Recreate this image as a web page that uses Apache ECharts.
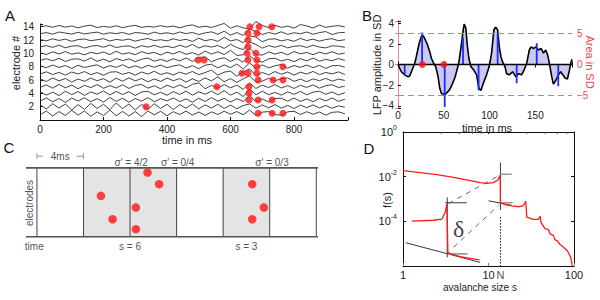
<!DOCTYPE html>
<html>
<head>
<meta charset="utf-8">
<title>LFP avalanches</title>
<script src="https://cdn.jsdelivr.net/npm/echarts@6.0.0/dist/echarts.min.js"></script>
<style>
  html, body { margin: 0; padding: 0; background: #fff; }
  #chart { width: 600px; height: 300px; }
</style>
</head>
<body>
<div id="chart"></div>
<script>
// A: LFP traces, one row per electrode (1..14), deflection in 1/100 of the row spacing, one sample every 20 ms
const traceStep = 20
const tracesA = [
  [-10,15,-18,12,-14,20,-12, 16,-20,10,-15,22,-16,13, -18,12,-22,16,-10,14,-17, 11,-8,15,-12,9,-14,10, -8,14,-6,12,-10,22,-14, 8,12,-9,-12,10,14,-8, 11,-6,9,-12,7,10,-3],
  [12,-16,20,-10,18,-22,14, -18,22,-12,16,-20,25,-14, 18,-22,15,-18,20,-12,16, -20,14,-10,18,-15,12,-9, 16,-12,10,-14,8,18,-10, 12,-8,14,-10,9,-13,11, -7,12,-9,8,-11,6,-4],
  [-8,14,-12,10,-16,13,-7, 15,-11,9,-14,17,-9,12, -15,10,-8,16,-12,9,-6, 14,-11,8,-15,12,-10,16, -8,11,-14,9,-10,32,-12, 8,-14,10,12,-8,13,-9, 7,-12,10,-6,14,-9,5],
  [10,-12,8,-15,14,-9,12, -14,9,-6,16,-11,13,-8, 11,-15,9,14,-10,7,-13, 12,-8,15,-12,10,-6,14, -9,18,-12,8,-22,30,-10, 14,-9,6,-12,10,-7,13, -10,8,14,-6,9,-11,5],
  [-6,12,-10,15,-8,11,-14, 9,-6,14,-11,7,-9,13, -12,8,15,-10,6,-14,10, -7,12,-9,16,25,-14,8, -10,14,-8,10,-18,26,-12, 10,-6,14,-9,7,-12,9, -5,12,-10,7,13,-6,4],
  [8,-10,14,-6,10,-14,7, -9,13,-5,9,-15,12,-8, 14,-6,10,-12,7,-9,13, -5,10,-14,8,-10,14,-6, 22,-12,9,-16,8,28,-14, -8,12,-6,10,14,-9,6, -12,8,-5,11,-8,6,-3],
  [-5,10,-8,6,-12,9,-4, 12,-9,5,-13,8,11,-7, 6,-12,9,-5,14,-8,4, -11,8,-6,13,-9,5,22, -12,8,15,-20,10,30,-15, 6,-10,12,-6,9,-12,8, -5,13,-9,6,-4,10,-8],
  [6,-7,11,-5,8,-12,10, -6,4,12,-9,7,-5,13, -8,6,-10,9,-4,11,-7, 5,12,-9,7,-14,10,16, -8,12,-6,18,-16,25,-10, 12,-8,6,15,-10,8,-5, 11,-7,9,-12,6,8,-4],
  [-4,9,-6,12,-10,5,8, -7,14,-9,6,-12,10,-4, 8,-11,5,13,-8,4,-10, 9,-6,14,-10,18,20,-12, 6,15,-9,10,-15,30,-5, -14,8,12,-7,5,-11,9, -6,13,-8,4,-5,10,-3],
  [5,-8,10,-4,12,-6,3, -10,7,-3,9,-8,14,-5, 4,-9,11,-2,6,-11,8, -4,13,-7,5,-12,15,-5, 10,-8,20,-14,-10,34,-8, -12,9,-5,7,-10,12,-3, 6,-9,8,-4,11,-6,2],
  [-2,7,-5,10,-8,4,6, -9,3,8,-4,11,-6,2, 5,-10,7,-3,9,-5,3, -7,10,-4,15,-9,6,-3, 8,-12,16,-6,-20,32,15, -10,7,-4,9,-8,3,6, -5,10,-3,-8,6,3,-4],
  [4,-6,8,-3,6,-9,3, 7,-5,2,9,-7,4,-2, 6,-8,3,10,-4,2,-6, 8,-3,5,-10,12,-5,4, -9,18,-6,3,-18,28,20, -12,5,8,-6,3,-9,11, -4,6,-8,3,9,-5,2],
  [-3,5,-6,9,2,-5,7, -4,3,8,-6,4,-2,6, -7,5,2,-6,8,-3,4, -5,9,-2,6,-8,3,10, -6,14,-12,5,-14,30,12, -8,6,-5,10,-7,4,-3, 9,-6,5,12,-8,4,6],
  [0,6,-4,8,-3,5,-8, 4,10,-6,2,-4,6,-7, 3,9,-5,2,-3,7,-2, 4,-8,5,12,-4,3,-6, 8,22,-10,6,-8,-16,35, 8,-6,9,-5,4,-10,14, 5,-9,11,-5,3,7,-2]
]
const traceGain = 1 / 45
// A: detected events [time in ms, electrode]
const eventsA = [
  [661, 14], [690, 14], [730, 14], [655, 13], [683, 13], [655, 12], [655, 11],
  [652, 10], [680, 10], [498, 9], [517, 9], [655, 9], [683, 9], [683, 8], [765, 8],
  [636, 7], [655, 7], [683, 7], [687, 6], [734, 6], [765, 6], [557, 5], [658, 5],
  [658, 4], [658, 3], [687, 3], [731, 3], [334, 2], [687, 1], [731, 1], [765, 1]
]

// B: one electrode, time in ms and amplitude in SD
const lfpTime = [0,3.6,7.3,11,12.8,15.3,18.2,20,23,25.5,27.4,29.2,31.8,34.7,36.5,39,41.2,43.8,45.6,47.4,51.1,53.6,56.6,59.5,62,63.9,65.7,66.8,69.3,71.2,72.3,74.1,75.5,77.4,79.6,82.8,85.8,88.3,90.5,93,96.7,99.6,102.2,104.7,106.6,108.8,110.6,112.4,114.2,116.8,118.6,121.5,125.2,128.8,131.4,135,137.6,140.5,143.4,145.3,147.8,150.7,153.3,156.2,158.8,161.3,163.5,165.3,167.9,169.7,172.6,175.2,177.7,179.9,182.5,185,187.2,189,190]
const lfpValue = [0,-0.7,-1.0,-1.2,-1.1,-0.55,0.1,0.75,2.0,2.7,2.8,2.5,2.0,1.2,0.6,0.1,-0.2,-1.2,-2.3,-2.8,-2.9,-2.7,-2.4,-1.85,-1.3,-0.7,-0.1,0.4,2.0,3.35,3.9,3.5,2.0,0.6,-0.2,-0.55,-1.0,-2.3,-2.5,-1.85,-1.0,-0.2,1.1,3.35,3.6,3.35,1.7,0.75,0.25,-0.2,-0.9,-1.0,-0.7,-1.2,-0.9,-1.0,-0.55,0.1,1.4,1.7,1.55,1.7,1.4,1.55,1.1,1.4,0.9,0.1,-1.2,-1.9,-1.5,-1.0,-0.7,-1.0,-1.3,-1.4,-0.55,0.25,0.5]
const peakTime = [7.3, 26.3, 51, 71, 88, 108.8, 129.6, 151.5, 175]
const peakValue = [-1.0, 3.1, -4.1, 2.6, -2.5, 3.0, -1.8, 2.05, -2.1]
const eventTimeB = [26.6, 50]
const thresholdSD = 3

// C: binning schematic, time in ms, electrodes as rows
const binEdges = [0, 4, 8, 12, 16, 20, 24]
const avalancheBins = [[4, 12], [16, 20]]
const spikeTime = [9.5, 10.5, 5.5, 8.5, 6.5, 8.5, 18.5, 19.5, 18.5]
const spikeRow = [5.5, 4.5, 3.5, 2.5, 1.5, 0.65, 4.5, 2.5, 1.5]
const electrodeBand = [0, 5.9]
const sigmaLabels = ['σ′ = 4/2', 'σ′ = 0/4', 'σ′ = 0/3']
const sigmaTime = [8.1, 12.1, 20.2]
const sizeLabels = ['s = 6', 's = 3']
const sizeTime = [8, 18]

// D: avalanche size distribution
const sizeMain = [1,1.59,2.49,3.9,6.1,7.98,9.57,11.4,12.9,13.7,13.8,15.6,18.7,23,25.6,27.3,28,33.5,38.3,40.1,41.2,45.8,50.1,52.5,57.3,60,63.8,68.7,73.8,78.5,83.5,88.2,91.5,94,95.5]
const freqMain = [1.86e-2,1.51e-2,1.23e-2,9.3e-3,6.6e-3,5.4e-3,5.0e-3,5.4e-3,7.1e-3,1.2e-2,6.8e-4,5.6e-4,4.9e-4,4.5e-4,5.1e-4,7.9e-4,1.55e-4,1.23e-4,1.23e-4,1.7e-4,8.7e-5,4.7e-5,4.3e-5,2.75e-5,2.35e-5,1.48e-5,1.38e-5,9.1e-6,7.4e-6,5.9e-6,4.9e-6,3.2e-6,2.45e-6,1.45e-6,1.02e-6]
const sizeInset = [1.27,2.28,2.85,3.12,3.26,3.35,3.57,4.67,6.1,7.84]
const freqInset = [1.02e-4,1.12e-4,1.26e-4,2.6e-4,5.9e-4,4.1e-6,3.5e-6,2.6e-6,2.2e-6,1.86e-6]
const sizeN = 13.8
// reference segments [[s0, f0], [s1, f1]]
const blackSegs = [
  [[1.08, 1.1e-5], [7.98, 1.45e-6]],
  [[10, 8.3e-4], [18.7, 5.2e-4]],
  [[3.29, 1.17e-3], [3.29, 2.45e-6]],
  [[3.12, 6.8e-4], [5.59, 6.8e-4]],
  [[sizeN, 4.3e-2], [sizeN, 3.2e-4]]
]
const graySegs = [
  [[3.35, 3.5e-6], [5.68, 3.5e-6]],
  [[13.7, 1.29e-2], [18.7, 1.29e-2]],
  [[13.8, 6.8e-4], [19.2, 6.8e-4]]
]
const dashedSegs = [
  [[3.41, 6.3e-4], [13.3, 1.12e-2]],
  [[3.9, 6.9e-6], [13.1, 5.2e-4]]
]
const dottedSegs = [
  [[sizeN, 1.55e-4], [sizeN, 1e-6]]
]

const chart = echarts.init(document.getElementById('chart'), null, { renderer: 'svg' })

const FONT = 'Liberation Sans, Arial, sans-serif'
const tickLabel = { fontFamily: FONT, fontSize: 10, color: '#222' }
const blackLine = { show: true, lineStyle: { color: '#111', width: 1 } }
const inTick = { show: true, inside: true, length: 3, lineStyle: { color: '#111' } }
const hidden = { color: 'rgba(0,0,0,0)' }

const supLabel = v => {
  const e = Math.round(Math.log10(v))
  return '10{e|' + e + '}'
}

// axis titles and panel letters, placed by their centre
const title = (text, x, y, opts = {}) => ({
  type: 'text', x, y, rotation: opts.rotation || 0, silent: true,
  style: {
    text, x: 0, y: 0, align: 'center', verticalAlign: 'middle',
    fontFamily: opts.font || FONT, fontSize: opts.size || 11, fill: opts.color || '#222'
  }
})

const series = []

// --- A ---
tracesA.forEach((trace, k) => {
  series.push({
    type: 'line', xAxisIndex: 0, yAxisIndex: 0, symbol: 'none', clip: false,
    data: trace.map((v, i) => [i * traceStep, k + 1 + v * traceGain]),
    lineStyle: { color: '#2b2b2b', width: 0.9 }
  })
})
series.push({
  type: 'scatter', xAxisIndex: 0, yAxisIndex: 0, data: eventsA,
  symbolSize: 7, itemStyle: { color: '#ff1414' }, z: 5
})

// --- B ---
series.push({
  type: 'line', xAxisIndex: 1, yAxisIndex: 1, symbol: 'none',
  data: lfpTime.map((t, i) => [t, lfpValue[i]]),
  lineStyle: { color: '#000', width: 1.6 },
  areaStyle: { color: '#c9c9f3', opacity: 1, origin: 'auto' },
  markLine: {
    silent: true, symbol: 'none', label: { show: false },
    data: [
      { yAxis: thresholdSD, lineStyle: { color: '#f26d6d', type: [6, 4], width: 1 } },
      { yAxis: -thresholdSD, lineStyle: { color: '#f26d6d', type: [6, 4], width: 1 } },
      { yAxis: 0, lineStyle: { color: '#000', type: 'solid', width: 1.3 } }
    ]
  },
  z: 2
})
series.push({
  type: 'bar', xAxisIndex: 1, yAxisIndex: 1, barWidth: 1.8,
  data: peakTime.map((t, i) => [t, peakValue[i]]),
  itemStyle: { color: '#1f2bff' }, z: 3
})
series.push({
  type: 'scatter', xAxisIndex: 1, yAxisIndex: 1,
  data: eventTimeB.map(t => [t, 0]),
  symbolSize: 7, itemStyle: { color: '#ff1414' }, z: 5
})

// --- C ---
series.push({
  type: 'line', xAxisIndex: 3, yAxisIndex: 3, symbol: 'none', data: [],
  markArea: {
    silent: true, itemStyle: { color: '#e4e4e4' },
    data: avalancheBins.map(b => [{ xAxis: b[0], yAxis: electrodeBand[0] }, { xAxis: b[1], yAxis: electrodeBand[1] }])
  }
})
binEdges.forEach(t => {
  series.push({
    type: 'line', xAxisIndex: 3, yAxisIndex: 3, symbol: 'none',
    data: [[t, electrodeBand[0]], [t, electrodeBand[1]]],
    lineStyle: { color: '#444', width: 1 }
  })
})
electrodeBand.forEach(y => {
  series.push({
    type: 'line', xAxisIndex: 3, yAxisIndex: 3, symbol: 'none',
    data: [[-0.94, y], [24.15, y]],
    lineStyle: { color: '#555', width: 1.6 }
  })
})
// 4 ms scale bracket
const bracketY = 6.9
;[[[0, bracketY], [0.5, bracketY]], [[3.4, bracketY], [4, bracketY]],
  [[0, bracketY - 0.25], [0, bracketY + 0.25]], [[4, bracketY - 0.25], [4, bracketY + 0.25]]].forEach(seg => {
  series.push({
    type: 'line', xAxisIndex: 3, yAxisIndex: 3, symbol: 'none', data: seg,
    lineStyle: { color: '#999', width: 1 }
  })
})
series.push({
  type: 'scatter', xAxisIndex: 3, yAxisIndex: 3, symbolSize: 8.5,
  data: spikeTime.map((t, i) => [t, spikeRow[i]]),
  itemStyle: { color: '#ff1414' }, z: 5
})
const cText = [
  { value: [2, bracketY], name: '4ms' },
  ...sigmaLabels.map((s, i) => ({ value: [sigmaTime[i], 6.4], name: s })),
  ...sizeLabels.map((s, i) => ({ value: [sizeTime[i], -0.88], name: s })),
  { value: [-0.23, -0.8], name: 'time' }
]
series.push({
  type: 'scatter', xAxisIndex: 3, yAxisIndex: 3, symbolSize: 1,
  itemStyle: hidden, data: cText, z: 6,
  label: { show: true, position: 'inside', formatter: '{b}', fontFamily: FONT, fontSize: 10, color: '#222' }
})
series.push({
  type: 'scatter', xAxisIndex: 3, yAxisIndex: 3, symbolSize: 1,
  itemStyle: hidden, data: [{ value: [-0.62, 2.89], name: 'electrodes' }], z: 6,
  label: { show: true, position: 'inside', rotate: 90, formatter: '{b}', fontFamily: FONT, fontSize: 10, color: '#222' }
})

// --- D ---
series.push({
  type: 'line', xAxisIndex: 4, yAxisIndex: 4, symbol: 'none',
  data: sizeMain.map((s, i) => [s, freqMain[i]]),
  lineStyle: { color: '#ff1a1a', width: 1.3 }, z: 4
})
series.push({
  type: 'line', xAxisIndex: 4, yAxisIndex: 4, symbol: 'none',
  data: sizeInset.map((s, i) => [s, freqInset[i]]),
  lineStyle: { color: '#ff1a1a', width: 1.3 }, z: 4
})
const segSeries = (segs, style) => segs.forEach(seg => series.push({
  type: 'line', xAxisIndex: 4, yAxisIndex: 4, symbol: 'none', data: seg, lineStyle: style, z: 3
}))
segSeries(blackSegs, { color: '#222', width: 0.9 })
segSeries(graySegs, { color: '#999', width: 1.6 })
segSeries(dashedSegs, { color: '#555', width: 0.9, type: [5, 5] })
segSeries(dottedSegs, { color: '#111', width: 1, type: [1.5, 1.5] })
series.push({
  type: 'scatter', xAxisIndex: 4, yAxisIndex: 4, symbolSize: 1, itemStyle: hidden, z: 6,
  data: [{ value: [4.48, 4.7e-5], name: 'δ' }],
  label: { show: true, position: 'inside', formatter: '{b}', fontFamily: 'Liberation Serif, serif', fontSize: 24, color: '#111' }
})
series.push({
  type: 'scatter', xAxisIndex: 4, yAxisIndex: 4, symbolSize: 1, itemStyle: hidden, z: 6,
  data: [{ value: [sizeN, 1e-6], name: 'N' }],
  label: { show: true, position: 'bottom', distance: 3, formatter: '{b}', fontFamily: FONT, fontSize: 11, color: '#222' }
})

const option = {
  animation: false,
  backgroundColor: '#fff',
  graphic: [
    title('A', 10, 15, { size: 15, color: '#111' }),
    title('B', 367, 15, { size: 15, color: '#111' }),
    title('C', 9, 147, { size: 15, color: '#111' }),
    title('D', 369, 148, { size: 15, color: '#111' }),
    title('time in ms', 187, 140),
    title('electrode #', 16, 63, { rotation: Math.PI / 2 }),
    title('time in ms', 487, 127.5),
    title('LFP amplitude in SD', 377, 65, { rotation: Math.PI / 2 }),
    title('Area in SD', 590, 62, { rotation: -Math.PI / 2, color: '#f04848' }),
    title('avalanche size s', 480, 287, { size: 10 }),
    title('f(s)', 387, 200, { rotation: Math.PI / 2 })
  ],
  grid: [
    { left: 40, top: 24, width: 308, height: 96, outerBoundsMode: 'none' },
    { left: 398, top: 21, width: 174, height: 87, outerBoundsMode: 'none' },
    { left: 26, top: 150, width: 292, height: 102, outerBoundsMode: 'none' },
    { left: 403, top: 132, width: 171, height: 134, outerBoundsMode: 'none' }
  ],
  xAxis: [
    {
      gridIndex: 0, type: 'value', min: 0, max: 970, splitNumber: 5,
      axisLine: blackLine, axisTick: inTick, splitLine: { show: false },
      axisLabel: { ...tickLabel, margin: 4, formatter: v => (v % 200 === 0 ? v : '') }
    },
    {
      gridIndex: 1, type: 'value', min: 0, max: 190, splitNumber: 4,
      axisLine: blackLine, axisTick: inTick, splitLine: { show: false },
      axisLabel: { ...tickLabel, margin: 2, formatter: v => (v % 50 === 0 ? v : '') }
    },
    {
      gridIndex: 1, type: 'value', min: 0, max: 190, splitNumber: 4, position: 'top',
      axisLine: blackLine, axisTick: inTick, splitLine: { show: false }, axisLabel: { show: false }
    },
    {
      gridIndex: 2, type: 'value', min: -0.94, max: 24.15, show: false
    },
    {
      gridIndex: 3, type: 'log', min: 1, max: 100, logBase: 10,
      axisLine: blackLine, axisTick: { ...inTick, lineStyle: { color: '#888' } }, splitLine: { show: false },
      axisLabel: { ...tickLabel, fontSize: 11, margin: 3, formatter: v => String(Math.round(v)) }
    },
    {
      gridIndex: 3, type: 'log', min: 1, max: 100, logBase: 10, position: 'top',
      axisLine: blackLine, axisTick: { ...inTick, length: 2 },
      minorTick: { show: true, splitNumber: 5, length: 2, lineStyle: { color: '#666' } },
      splitLine: { show: false }, axisLabel: { show: false }
    }
  ],
  yAxis: [
    {
      gridIndex: 0, type: 'value', min: 0, max: 14.4, splitNumber: 7,
      axisLine: blackLine, axisTick: inTick, splitLine: { show: false },
      axisLabel: { ...tickLabel, margin: 6, formatter: v => (v > 0 && v % 2 === 0 ? v : '') }
    },
    {
      gridIndex: 1, type: 'value', min: -4.2, max: 4.2, splitNumber: 4,
      axisLine: blackLine, axisTick: inTick, splitLine: { show: false },
      axisLabel: { ...tickLabel, margin: 4, formatter: v => (v % 2 === 0 ? String(v).replace('-', '−') : '') }
    },
    {
      gridIndex: 1, type: 'value', min: -7, max: 7, splitNumber: 3, position: 'right',
      axisLine: { show: true, lineStyle: { color: '#f08a8a', width: 1 } },
      axisTick: { show: true, inside: true, length: 3, lineStyle: { color: '#f08a8a' } },
      splitLine: { show: false },
      axisLabel: { ...tickLabel, color: '#f04848', margin: 5, formatter: v => (v % 5 === 0 ? String(v).replace('-', '−') : '') }
    },
    {
      gridIndex: 2, type: 'value', min: -1.31, max: 7.43, show: false
    },
    {
      gridIndex: 3, type: 'log', min: 1e-6, max: 1, logBase: 100,
      axisLine: blackLine, axisTick: inTick, splitLine: { show: false },
      axisLabel: {
        ...tickLabel, fontSize: 11, margin: 6,
        formatter: v => (Math.round(Math.log10(v)) === -6 ? '' : supLabel(v)),
        rich: { e: { fontFamily: FONT, fontSize: 7, color: '#222', padding: [0, 0, 9, 0] } }
      }
    },
    {
      gridIndex: 3, type: 'log', min: 1e-6, max: 1, logBase: 100, position: 'right',
      axisLine: blackLine, axisTick: inTick, splitLine: { show: false }, axisLabel: { show: false }
    }
  ],
  series
}

chart.setOption(option)
</script>
</body>
</html>
